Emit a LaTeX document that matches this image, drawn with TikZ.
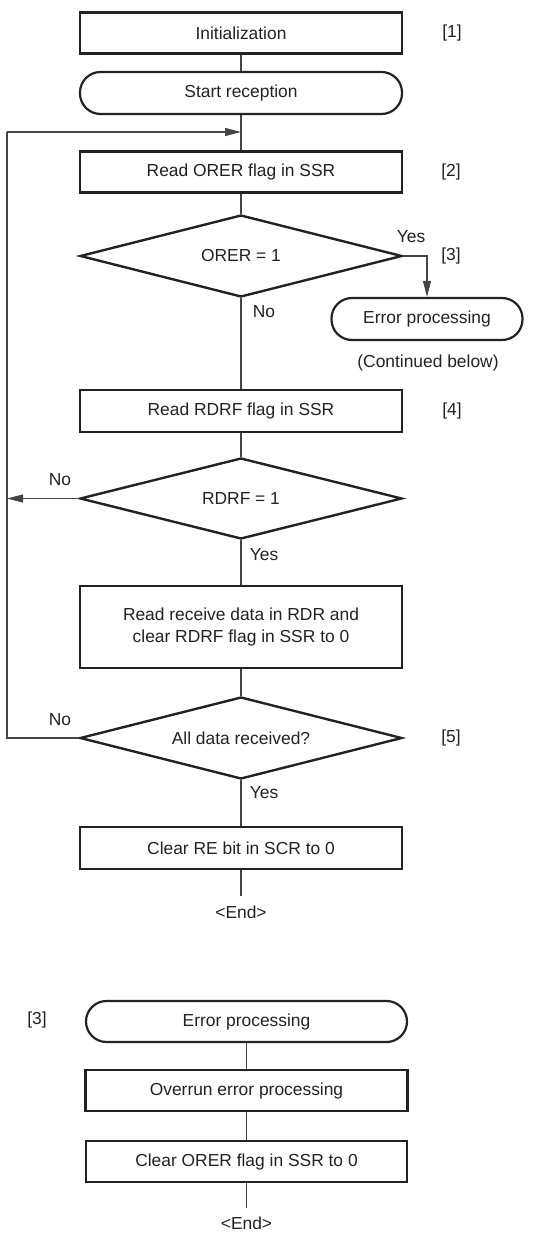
\documentclass[tikz,border=0pt]{standalone}
\usepackage{fontspec}
\setmainfont{Liberation Sans}
\usetikzlibrary{shapes.geometric,arrows.meta}
\definecolor{ink}{HTML}{222222}
\definecolor{wire}{HTML}{444444}
\begin{document}
\begin{tikzpicture}[x=1pt,y=-1pt,
  every node/.style={font=\fontsize{17.4}{22}\selectfont, text=ink},
  procbox/.style={draw=ink, line width=2.4pt, rectangle, minimum width=322pt, minimum height=41pt, inner sep=0pt, align=center},
  termbox/.style={draw=ink, line width=2.2pt, rectangle, rounded corners=20.5pt, minimum width=322pt, minimum height=42pt, inner sep=0pt},
  decbox/.style={draw=ink, line width=2.4pt, diamond, shape aspect=3.93, minimum width=322pt, minimum height=82pt, inner sep=0pt},
  conn/.style={draw=wire, line width=1.2pt},
  arr/.style={conn, -{Triangle[length=16pt,width=8pt]}},
  lbl/.style={inner sep=0pt}
]
\useasboundingbox (0,0) rectangle (555,1233);

% main flow
\node[procbox] (init) at (241,33) {Initialization};
\node[termbox] (start) at (241,93) {Start reception};
\node[procbox] (rorer) at (241,172) {Read ORER flag in SSR};
\node[decbox] (d1) at (241,256) {ORER = 1};
\node[termbox, minimum width=191pt] (err1) at (427,319) {Error processing};
\node[procbox, minimum height=42pt] (rrdrf) at (241,411) {Read RDRF flag in SSR};
\node[decbox, minimum height=81pt] (d2) at (241,498.5) {RDRF = 1};
\node[procbox, minimum height=82pt] (rdata) at (241,627) {Read receive data in RDR and\\clear RDRF flag in SSR to 0};
\node[decbox] (d3) at (241,738) {All data received?};
\node[procbox, minimum height=42pt] (clre) at (241,848) {Clear RE bit in SCR to 0};
\node[lbl] (end1) at (241,912) {<End>};
\coordinate (end1top) at (241,896);
\coordinate (loopin) at (241,132);
\coordinate (lefttop) at (7,132);
\coordinate (leftmid) at (7,498.5);
\coordinate (leftbot) at (7,738);

% labels
\node[lbl] (n1) at (452,33) {[1]};
\node[lbl] (n2) at (451,172) {[2]};
\node[lbl] (n3) at (451,256) {[3]};
\node[lbl] (n4) at (452,411) {[4]};
\node[lbl] (n5) at (451,738) {[5]};
\node[lbl] (y1) at (411,237) {Yes};
\node[lbl] (no1) at (264,312) {No};
\node[lbl] (cont) at (428,363) {(Continued below)};
\node[lbl] (no2) at (60,480) {No};
\node[lbl] (y2) at (264,555) {Yes};
\node[lbl] (no3) at (60,720) {No};
\node[lbl] (y3) at (264,793) {Yes};

% connectors
\draw[conn] (init) -- (start);
\draw[conn] (start) -- (rorer);
\draw[conn] (rorer) -- (d1);
\draw[conn] (d1) -- (rrdrf);
\draw[arr] (d1.east) -- (err1.north |- d1.east) -- (err1.north);
\draw[conn] (rrdrf) -- (d2);
\draw[arr] (d2.west) -- (leftmid);
\draw[conn] (d2) -- (rdata);
\draw[conn] (rdata) -- (d3);
\draw[conn] (d3.west) -- (leftbot) -- (lefttop);
\draw[arr] (lefttop) -- (loopin);
\draw[conn] (d3) -- (clre);
\draw[conn] (clre) -- (end1top);

% error processing subroutine
\node[lbl] (n3b) at (37,1020) {[3]};
\node[termbox, minimum width=321pt, minimum height=41pt] (err2) at (246.5,1021.5) {Error processing};
\node[procbox] (ovr) at (246.5,1090.5) {Overrun error processing};
\node[procbox, minimum width=321pt] (clor) at (246.5,1161.5) {Clear ORER flag in SSR to 0};
\coordinate (end2top) at (246.5,1208);
\node[lbl] (end2) at (246.5,1223) {<End>};
\draw[conn] (err2) -- (ovr);
\draw[conn] (ovr) -- (clor);
\draw[conn] (clor) -- (end2top);
\end{tikzpicture}
\end{document}
